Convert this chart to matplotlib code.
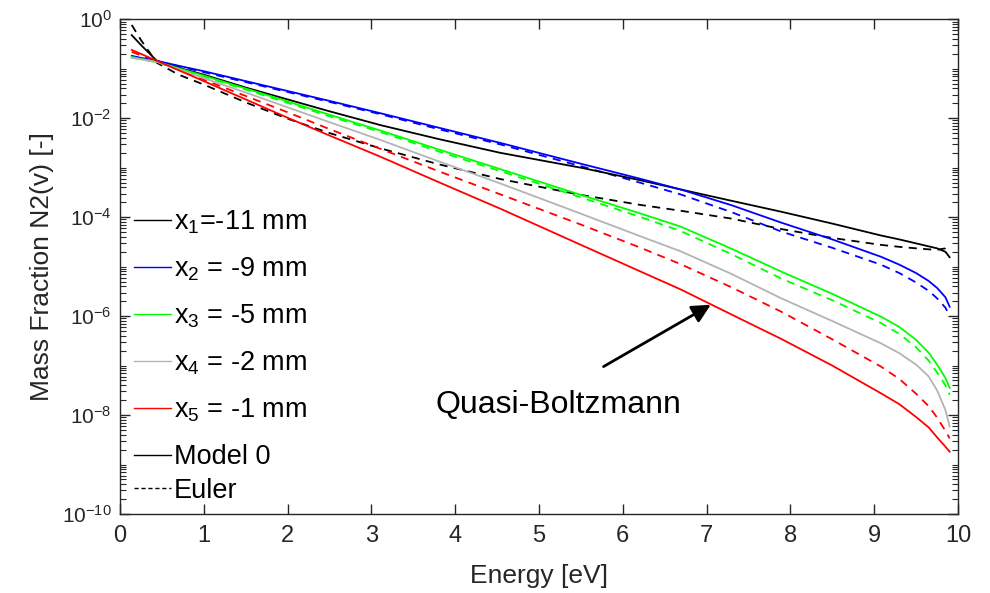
import numpy as np
import matplotlib
matplotlib.use("Agg")
import matplotlib.pyplot as plt
from matplotlib.lines import Line2D
from matplotlib.ticker import LogLocator, FixedLocator, NullFormatter, FuncFormatter

plt.rcParams['font.family'] = ['Liberation Sans', 'DejaVu Sans']
plt.rcParams['mathtext.fontset'] = 'custom'
plt.rcParams['mathtext.rm'] = 'Liberation Sans'
plt.rcParams['mathtext.it'] = 'Liberation Sans'
plt.rcParams['mathtext.default'] = 'regular'

# Energy grid [eV]
energy = [0.14, 0.25, 0.44, 0.7, 1.0, 1.5, 2.0, 2.5, 3.11, 3.8, 4.54, 5.5,
          6.2, 6.69, 7.3, 7.89, 8.5, 9.08, 9.3, 9.5, 9.65, 9.75, 9.85, 9.9]

# log10 of mass fraction
x1_model0 = [-0.32, -0.52, -0.84, -0.98, -1.12, -1.38, -1.62, -1.86, -2.14, -2.42, -2.70, -3.00,
             -3.25, -3.44, -3.67, -3.89, -4.13, -4.37, -4.45, -4.53, -4.59, -4.63, -4.70, -4.81]
x1_euler = [-0.115, -0.42, -0.88, -1.12, -1.32, -1.68, -2.01, -2.30, -2.61, -2.93, -3.23, -3.55,
            -3.75, -3.87, -4.03, -4.24, -4.42, -4.56, -4.60, -4.63, -4.65, -4.66, -4.63, -4.56]
x2_model0 = [-0.74, -0.78, -0.84, -0.94, -1.05, -1.25, -1.45, -1.65, -1.90, -2.19, -2.50, -2.92,
             -3.22, -3.44, -3.76, -4.11, -4.45, -4.80, -4.96, -5.13, -5.29, -5.43, -5.62, -5.81]
x2_euler = [-0.75, -0.79, -0.85, -0.95, -1.07, -1.27, -1.47, -1.67, -1.92, -2.22, -2.53, -2.97,
            -3.30, -3.54, -3.90, -4.29, -4.62, -4.96, -5.13, -5.32, -5.49, -5.64, -5.83, -6.00]
x3_model0 = [-0.76, -0.80, -0.86, -0.99, -1.14, -1.40, -1.66, -1.93, -2.25, -2.63, -3.03, -3.55,
             -3.92, -4.19, -4.64, -5.10, -5.55, -6.01, -6.22, -6.48, -6.74, -6.98, -7.25, -7.45]
x3_euler = [-0.77, -0.81, -0.87, -1.00, -1.16, -1.42, -1.69, -1.96, -2.28, -2.67, -3.07, -3.60,
            -3.99, -4.28, -4.75, -5.24, -5.68, -6.14, -6.36, -6.63, -6.90, -7.14, -7.40, -7.59]
x4_model0 = [-0.78, -0.81, -0.86, -1.01, -1.19, -1.48, -1.78, -2.08, -2.44, -2.87, -3.32, -3.93,
             -4.38, -4.69, -5.15, -5.64, -6.10, -6.55, -6.75, -6.98, -7.22, -7.50, -7.90, -8.23]
x5_model0 = [-0.62, -0.70, -0.84, -1.03, -1.25, -1.62, -1.99, -2.35, -2.78, -3.29, -3.83, -4.56,
             -5.09, -5.46, -5.97, -6.46, -7.00, -7.56, -7.78, -8.04, -8.25, -8.45, -8.64, -8.74]
x5_euler = [-0.66, -0.73, -0.85, -1.02, -1.22, -1.55, -1.88, -2.22, -2.62, -3.07, -3.54, -4.15,
            -4.61, -4.95, -5.42, -5.91, -6.47, -7.02, -7.27, -7.57, -7.82, -8.05, -8.32, -8.47]

labels = [r'x$_1$=-11 mm', r'x$_2$ = -9 mm', r'x$_3$ = -5 mm', r'x$_4$ = -2 mm', r'x$_5$ = -1 mm']
colors = ['#000000', '#0000ff', '#00ff00', '#b4b4b4', '#ff0000']
solid_series = [x1_model0, x2_model0, x3_model0, x4_model0, x5_model0]
dashed_series = [(x1_euler, '#000000'), (x2_euler, '#0000ff'), (x3_euler, '#00ff00'), (x5_euler, '#ff0000')]

xticks = [0, 1, 2, 3, 4, 5, 6, 7, 8, 9, 10]
ydecades_major = [0, -2, -4, -6, -8, -10]

fig = plt.figure(figsize=(9.9, 5.93), dpi=100)
ax = fig.add_axes([0.1212, 0.1332, 0.8465, 0.8343])

E = np.array(energy)
dash = (0, (4.5, 3.5))
for ser, col in dashed_series:
    ax.plot(E, 10.0 ** np.array(ser), color=col, lw=1.3, ls=dash)
handles = []
for ser, col, lab in zip(solid_series, colors, labels):
    h, = ax.plot(E, 10.0 ** np.array(ser), color=col, lw=1.3, label=lab)
    handles.append(h)

ax.set_yscale('log')
ax.set_xlim(0, 10)
ax.set_ylim(1e-10, 1e0)
ax.xaxis.set_major_locator(FixedLocator(xticks))
ax.yaxis.set_major_locator(FixedLocator([10.0 ** d for d in ydecades_major]))
ax.yaxis.set_minor_locator(LogLocator(base=10, subs=np.arange(1, 10), numticks=100))
ax.yaxis.set_minor_formatter(NullFormatter())
ax.yaxis.set_major_formatter(FuncFormatter(lambda v, p: r'10$^{%d}$' % int(round(np.log10(v)))))

axcol = '#262626'
for s in ax.spines.values():
    s.set_color(axcol)
    s.set_linewidth(1.0)
ax.tick_params(which='both', direction='in', top=True, right=True, colors=axcol,
               labelcolor=axcol)
ax.tick_params(axis='y', labelsize=15)
ax.tick_params(axis='x', labelsize=17)
ax.tick_params(which='major', length=7, width=1.0)
ax.tick_params(which='minor', length=4, width=0.8)
ax.tick_params(axis='x', which='major', pad=8)
ax.tick_params(axis='y', which='major', pad=6)

ax.set_xlabel('Energy [eV]', fontsize=19, color=axcol, labelpad=12)
ax.set_ylabel('Mass Fraction N2(v) [-]', fontsize=19, color=axcol, labelpad=6)

leg_kw = dict(frameon=False, fontsize=19.5, handlelength=1.35, handletextpad=0.1,
              borderaxespad=0.0, borderpad=0.0)
leg1 = ax.legend(handles, labels, loc='upper left', bbox_to_anchor=(0.017, 0.617),
                 labelspacing=0.72, **leg_kw)
for lh in leg1.get_lines():
    lh.set_linewidth(1.0)
ax.add_artist(leg1)

proxy_m0 = Line2D([], [], color='k', lw=1.0)
proxy_eu = Line2D([], [], color='k', lw=1.0, ls=(0, (3, 2)))
leg2 = ax.legend([proxy_m0, proxy_eu], ['Model 0', 'Euler'], loc='upper left',
                 bbox_to_anchor=(0.017, 0.141), labelspacing=0.28, **leg_kw)

ax.annotate('', xy=(7.05, 10 ** -5.77), xytext=(5.77, 10 ** -7.02),
            arrowprops=dict(arrowstyle='-|>', mutation_scale=28, lw=2.0, color='k',
                            shrinkA=0, shrinkB=0))
ax.text(5.23, 10 ** -7.8, 'Quasi-Boltzmann', fontsize=23, ha='center', va='center', color='k')

fig.savefig('out.png', dpi=100)
